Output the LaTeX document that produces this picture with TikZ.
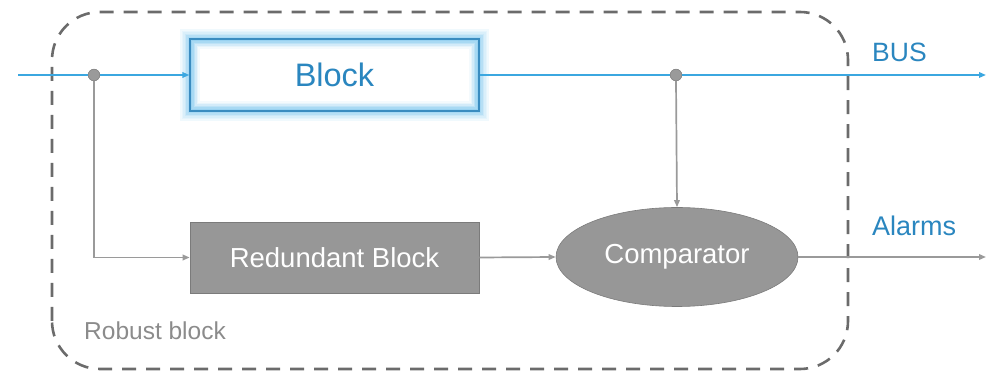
\documentclass[tikz,border=0pt]{standalone}
\usepackage{fontspec}
\setmainfont{Liberation Sans}
\usetikzlibrary{arrows.meta,shapes.geometric}
\definecolor{busblue}{HTML}{3BA7E0}
\definecolor{txtblue}{HTML}{2A86BF}
\definecolor{edgeblue}{HTML}{3A8CC0}
\definecolor{glowblue}{HTML}{6EC0EC}
\definecolor{lgray}{HTML}{9A9A9A}
\definecolor{boxgray}{HTML}{979797}
\definecolor{dgray}{HTML}{6B6B6B}
\begin{document}
\begin{tikzpicture}[x=1pt,y=1pt,
  busline/.style={busblue,line width=1.7pt},
  grayline/.style={lgray,line width=1.7pt},
  tipb/.style={-{Triangle[length=7pt,width=5.5pt]}},
  junction/.style={circle,fill=lgray,draw=dgray!80,line width=0.6pt,minimum size=11.5pt,inner sep=0pt},
  graybox/.style={rectangle,fill=boxgray,draw=lgray!80!black,line width=0.6pt,minimum width=289pt,minimum height=71pt,inner sep=0pt,text=white,font=\fontsize{27.5}{30}\selectfont},
  blockbox/.style={rectangle,fill=white,draw=edgeblue,line width=1.2pt,minimum width=289pt,minimum height=72pt,inner sep=0pt,text=txtblue,font=\fontsize{32.5}{36}\selectfont},
  lbl/.style={anchor=base west,inner sep=0pt},
  border/.style={dgray,line width=2.6pt,dash pattern=on 14pt off 10pt,rounded corners=48pt}
]
\useasboundingbox (0,0) rectangle (995,374);
% robust block border
\draw[border] (52,5) rectangle (848,362);
% glow around block
\foreach \o/\op in {9/0.1,7.5/0.18,6/0.26,4.5/0.36,3/0.5,1.5/0.6}{
  \draw[glowblue,line width=1.8pt,opacity=\op] (190-\o,263-\o) rectangle (479+\o,335+\o);
}
\node[blockbox] (blk) at (334.5,299) {Block};
\foreach \o/\op in {1.5/0.7,3/0.6,4.5/0.45,6/0.3,7.5/0.16,9/0.07}{
  \draw[glowblue,line width=1.8pt,opacity=\op] (190+\o,263+\o) rectangle (479-\o,335-\o);
}
\draw[edgeblue,line width=1.2pt] (blk.south west) rectangle (blk.north east);
\node[graybox] (red) at (334.5,116.5) {Redundant Block};
\node[ellipse,fill=boxgray,draw=lgray!80!black,line width=0.6pt,minimum width=242pt,minimum height=99pt,inner sep=0pt,text=white,font=\fontsize{27.5}{30}\selectfont] (cmp) at (677,117) {Comparator};
\coordinate (busin) at (18,299);
\coordinate (busout) at (986,299);
\coordinate (alout) at (986,117);
\node[junction] (j1) at (94,299) {};
\node[junction] (j2) at (676,299) {};
% gray connectors
\draw[grayline,tipb] (j1.south) |- (red.west);
\draw[grayline,tipb] (red.east) -- (cmp.west);
\draw[grayline,tipb] (j2.south) -- (cmp.north);
\draw[grayline,tipb] (cmp.east) -- (alout);
% bus
\draw[busline] (busin) -- (j1.west);
\draw[busline,tipb] (j1.east) -- (blk.west);
\draw[busline] (blk.east) -- (j2.west);
\draw[busline,tipb] (j2.east) -- (busout);
\node[junction] at (j1) {};
\node[junction] at (j2) {};
% labels
\node[lbl,text=txtblue,font=\fontsize{26.5}{30}\selectfont] (bus) at (872,312) {BUS};
\node[lbl,text=txtblue,font=\fontsize{27}{30}\selectfont] (alm) at (872,138) {Alarms};
\node[lbl,text=lgray!90!black,font=\fontsize{24.5}{28}\selectfont] (rb) at (84,34) {Robust block};
\end{tikzpicture}
\end{document}
